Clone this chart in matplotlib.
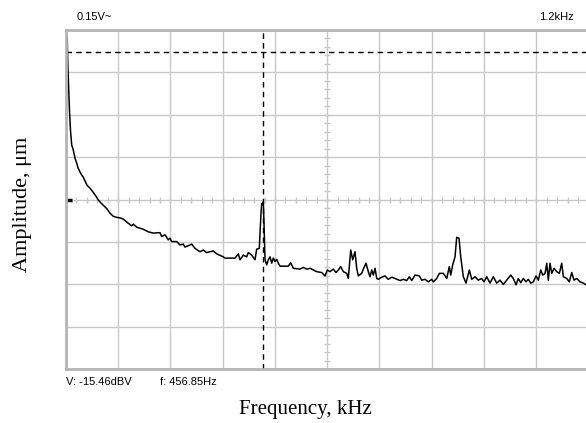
import numpy as np
import matplotlib.pyplot as plt
from matplotlib.transforms import blended_transform_factory

# spectrum trace: frequency (Hz) and level (screen divisions, 0 = bottom)
freq_hz = [
    3.0, 3.4, 4.6, 6.2, 8.0, 10.3, 13.1, 16.8, 20.7, 24.6, 27.6, 32.2, 36.1, 39.7,
    43.6, 48.2, 55.1, 62.0, 68.9, 74.2, 80.4, 87.3, 94.2, 101.1, 108.0, 116.5, 124.0,
    131.6, 143.1, 150.9, 154.6, 162.4, 177.6, 189.0, 200.5, 215.9, 219.8, 227.4,
    235.0, 238.9, 242.8, 254.3, 261.9, 269.4, 273.3, 284.8, 288.7, 296.3, 307.8,
    315.4, 323.2, 338.3, 346.2, 361.3, 365.2, 388.2, 395.8, 399.7, 407.3, 415.1,
    418.7, 426.6, 434.1, 438.0, 444.0, 447.9, 449.5, 450.9, 453.2, 454.8, 457.1,
    461.0, 464.7, 468.6, 472.5, 476.2, 480.1, 484.0, 487.7, 491.6, 510.6, 516.1,
    522.1, 537.5, 545.1, 552.9, 560.5, 568.1, 575.9, 587.3, 594.9, 600.2, 606.4,
    614.0, 620.2, 625.5, 631.0, 637.0, 644.8, 648.4, 654.0, 658.5, 663.8, 667.7,
    671.4, 679.2, 682.9, 689.1, 694.4, 698.3, 702.2, 705.9, 709.8, 713.7, 717.4,
    725.2, 732.7, 740.3, 748.1, 755.7, 767.2, 774.8, 782.6, 788.6, 794.1, 801.7,
    811.5, 817.0, 824.6, 832.2, 840.0, 843.7, 851.5, 857.5, 866.7, 874.5, 880.4,
    883.7, 888.2, 893.5, 897.4, 902.7, 906.6, 912.6, 918.8, 926.4, 931.9, 939.5,
    947.0, 954.8, 960.1, 966.3, 973.9, 981.5, 989.3, 996.9, 1004.5, 1012.3, 1021.5,
    1027.4, 1033.7, 1038.9, 1044.4, 1050.4, 1056.6, 1061.9, 1067.4, 1073.4, 1079.6,
    1084.9, 1090.4, 1095.0, 1100.3, 1104.2, 1107.8, 1111.7, 1115.7, 1120.9, 1127.1,
    1133.1, 1138.6, 1142.3, 1150.1, 1156.1, 1161.6, 1166.9, 1173.1, 1180.7, 1188.2,
    1194.4,
]
level_div = [
    7.81, 7.53, 7.06, 6.58, 6.11, 5.64, 5.29, 5.17, 4.98, 4.86, 4.75, 4.65, 4.58, 4.53,
    4.44, 4.34, 4.27, 4.18, 4.08, 3.99, 3.92, 3.85, 3.78, 3.68, 3.61, 3.58, 3.57,
    3.54, 3.44, 3.38, 3.42, 3.35, 3.30, 3.24, 3.21, 3.22, 3.13, 3.17,
    3.05, 3.09, 3.01, 3.01, 2.93, 2.95, 2.88, 2.93, 2.95, 2.85, 2.77,
    2.81, 2.75, 2.79, 2.72, 2.65, 2.62, 2.62, 2.72, 2.58, 2.69, 2.65,
    2.75, 2.69, 2.58, 2.83, 2.85, 3.68, 3.91, 3.87, 3.95, 3.44, 2.58,
    2.46, 2.58, 2.65, 2.50, 2.62, 2.54, 2.59, 2.50, 2.43, 2.43, 2.51,
    2.38, 2.36, 2.40, 2.36, 2.38, 2.34, 2.30, 2.28, 2.20, 2.34, 2.30,
    2.36, 2.28, 2.34, 2.42, 2.30, 2.26, 2.14, 2.81, 2.58, 2.77, 2.38,
    2.20, 2.26, 2.36, 2.50, 2.30, 2.18, 2.34, 2.22, 2.38, 2.14, 2.12,
    2.17, 2.20, 2.12, 2.17, 2.14, 2.09, 2.12, 2.09, 2.18, 2.09, 2.22,
    2.20, 2.10, 2.12, 2.06, 2.12, 2.06, 2.14, 2.26, 2.26, 2.14, 2.42,
    2.22, 2.46, 2.65, 3.11, 3.09, 2.65, 2.18, 2.03, 2.34, 2.12, 2.18,
    2.10, 2.14, 2.06, 2.18, 2.03, 2.18, 2.03, 2.10, 2.00, 2.10, 2.22,
    2.14, 1.99, 2.14, 2.04, 2.14, 2.06, 2.12, 2.03, 2.06, 2.20,
    2.10, 2.34, 2.22, 2.26, 2.50, 2.10, 2.50, 2.26, 2.38, 2.30,
    2.26, 2.50, 2.18, 2.14, 2.06, 2.28, 2.10, 2.14, 2.06, 2.03,
    1.99,
]

span_hz = 1200
n_xdiv, n_ydiv = 10, 8
cursor_hz = 453
cursor_level = 7.48
ref_level = 4

top_left_text = "0.15V~"
top_right_text = "1.2kHz"
readout_v = "V: -15.46dBV"
readout_f = "f: 456.85Hz"

fig = plt.figure(figsize=(5.86, 4.23), dpi=100)
ax = fig.add_axes([0.1126, 0.1272, 0.8916, 0.8019])

grid_c = "#c8c8c8"
ax.set_xlim(0, span_hz)
ax.set_ylim(0, n_ydiv)
ax.set_xticks(np.linspace(0, span_hz, n_xdiv + 1))
ax.set_yticks(np.arange(n_ydiv + 1))
ax.tick_params(length=0, labelbottom=False, labelleft=False)
ax.grid(True, color=grid_c, linewidth=1.0)
for s in ax.spines.values():
    s.set_color("#b4b4b4")
    s.set_linewidth(2.0)

# small graduation marks on the centre cross
xc = span_hz / 2
ax.plot(np.full(n_ydiv * 5 + 1, xc), np.linspace(0, n_ydiv, n_ydiv * 5 + 1),
        linestyle="none", marker="_", markersize=5, color=grid_c, mew=1.0)
ax.plot(np.linspace(0, span_hz, n_xdiv * 5 + 1), np.full(n_xdiv * 5 + 1, n_ydiv / 2),
        linestyle="none", marker="|", markersize=5, color=grid_c, mew=1.0)

# cursors
ax.axvline(cursor_hz, color="black", linestyle=(0, (4, 3)), linewidth=1.0)
ax.axhline(cursor_level, color="black", linestyle=(0, (4, 3)), linewidth=1.0)

# reference level marker
tr = blended_transform_factory(ax.transAxes, ax.transData)
ax.plot([0.002, 0.011], [ref_level, ref_level], transform=tr, color="black",
        linewidth=2.5, solid_capstyle="butt", clip_on=False)

ax.plot(freq_hz, level_div, color="black", linewidth=1.1)

sans = ["Liberation Sans", "DejaVu Sans"]
fig.text(77 / 586, 1 - 17 / 423, top_left_text, fontsize=8, family=sans,
         ha="left", va="center")
fig.text(574 / 586, 1 - 17 / 423, top_right_text, fontsize=8, family=sans,
         ha="right", va="center")
fig.text(66 / 586, 1 - 382 / 423, readout_v, fontsize=8, family=sans,
         ha="left", va="center")
fig.text(160 / 586, 1 - 382 / 423, readout_f, fontsize=8, family=sans,
         ha="left", va="center")

serif = ["Liberation Serif", "DejaVu Serif"]
fig.text(22 / 586, 1 - 204 / 423, "Amplitude, μm", fontsize=16, family=serif,
         rotation=90, ha="center", va="center")
fig.text(305 / 586, 1 - 409 / 423, "Frequency, kHz", fontsize=15, family=serif,
         ha="center", va="center")

fig.savefig("out.png", dpi=100)
